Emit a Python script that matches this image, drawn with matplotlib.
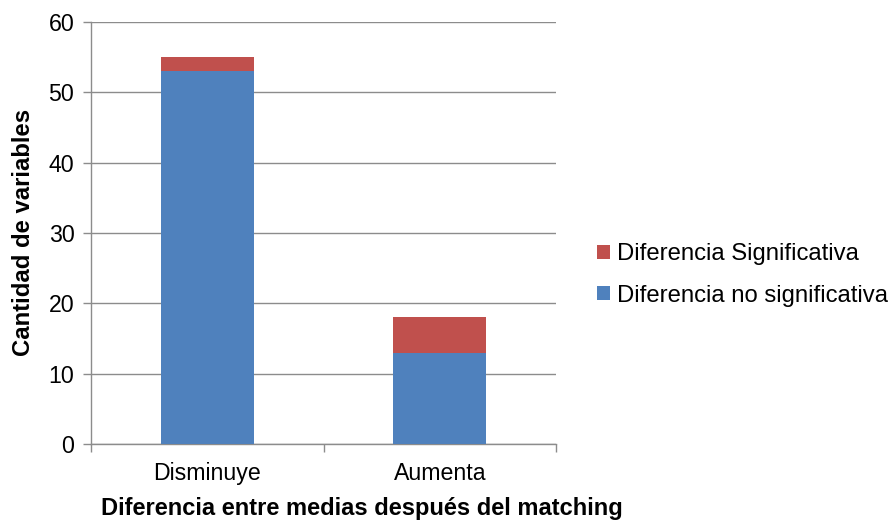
import matplotlib
matplotlib.use("Agg")
import matplotlib.pyplot as plt
import numpy as np

categories = ["Disminuye", "Aumenta"]
no_significativa = [53, 13]
significativa = [2, 5]
yticks = [0, 10, 20, 30, 40, 50, 60]

plt.rcParams['font.family'] = ['Liberation Sans', 'DejaVu Sans']

fig = plt.figure(figsize=(8.9, 5.2), dpi=100)
ax = fig.add_axes([91/890, 1-444/520, (556-91)/890, (444-22)/520])

x = np.arange(len(categories))
blue = "#4F81BD"
red = "#C0504D"
b1 = ax.bar(x, no_significativa, width=0.4, color=blue, label="Diferencia no significativa", zorder=3)
b2 = ax.bar(x, significativa, width=0.4, bottom=no_significativa, color=red, label="Diferencia Significativa", zorder=3)

ax.set_xlim(-0.5, 1.5)
ax.set_ylim(0, 60)
ax.set_yticks(yticks)
ax.yaxis.grid(True, color="#8c8c8c", linewidth=1, zorder=0)
ax.set_axisbelow(True)

ax.set_xticks([-0.5, 0.5, 1.5])
ax.set_xticklabels([])
ax.set_xticks(x, minor=True)
ax.set_xticklabels(categories, minor=True, fontsize=16.7)
ax.tick_params(axis='x', which='minor', length=0, pad=13)
ax.tick_params(axis='x', which='major', length=6, color="#8c8c8c", width=1, direction='out')
ax.tick_params(axis='y', length=6, color="#8c8c8c", width=1, labelsize=16.7, direction='out', pad=6)

for s in ["top", "right"]:
    ax.spines[s].set_visible(False)
for s in ["left", "bottom"]:
    ax.spines[s].set_color("#8c8c8c")
    ax.spines[s].set_linewidth(1)

fig.text(24/890, 1-232/520, "Cantidad de variables", rotation=90, fontsize=17.2, fontweight='bold', ha='center', va='center')
fig.text(362/890, 1-515/520, "Diferencia entre medias después del matching", fontsize=17, fontweight='bold', ha='center', va='baseline')

fig.legend(handles=[b2, b1], labels=["Diferencia Significativa", "Diferencia no significativa"],
           loc='center left', bbox_to_anchor=(587/890, 1-275/520), frameon=False, fontsize=17.2,
           handlelength=0.56, handleheight=0.56, handletextpad=0.28, labelspacing=0.8, borderaxespad=0)

fig.savefig("out.png", dpi=100)
